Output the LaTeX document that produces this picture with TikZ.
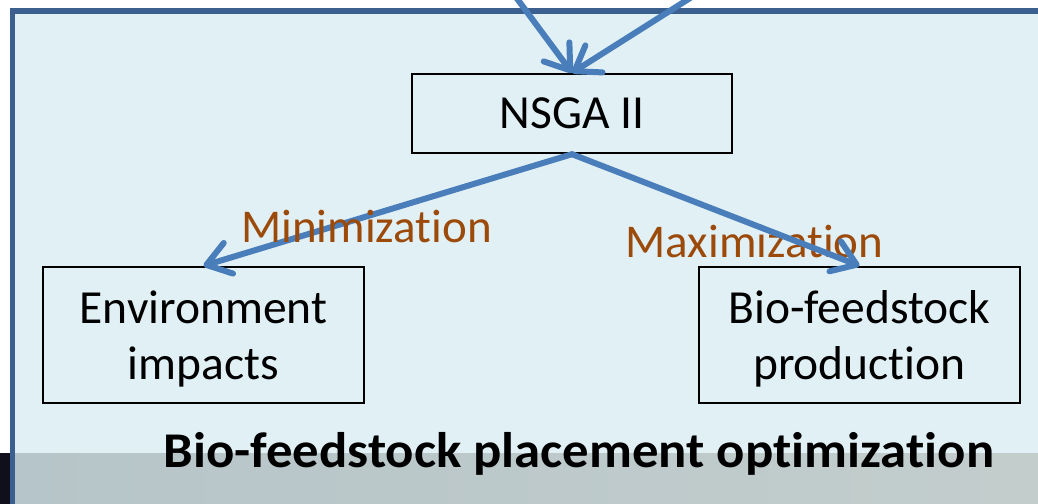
\documentclass[tikz,border=0pt]{standalone}
\usepackage{fontspec}
\usepackage{graphicx}
\setmainfont{Carlito}[Ligatures=NoCommon]
\usetikzlibrary{arrows.meta}
\definecolor{panelfill}{HTML}{E1F0F5}
\definecolor{panelborder}{HTML}{3B5F8E}
\definecolor{arrowblue}{HTML}{4A7EBB}
\definecolor{labelbrown}{HTML}{9C4A0A}
\definecolor{bandleft}{HTML}{B6C5C9}
\definecolor{bandright}{HTML}{C3CDCC}
\definecolor{darkcorner}{HTML}{10101C}
\begin{document}
\begin{tikzpicture}[x=1pt,y=-1pt,
  box/.style={draw=black, line width=2.4pt, inner sep=0pt, align=center,
    font=\fontsize{47.5}{56}\selectfont},
  conn/.style={draw=arrowblue, line width=6pt, line cap=round,
    -{Straight Barb[length=23pt,width=32pt,round]}},
  lbl/.style={text=labelbrown, anchor=base, inner sep=0pt,
    font=\fontsize{47}{56}\selectfont},
  title/.style={anchor=base, inner sep=0pt,
    font=\fontsize{50}{58}\selectfont\bfseries}]
\useasboundingbox (0,0) rectangle (1038,503);
\clip (0,0) rectangle (1038,503);
% background and panel
\fill[white] (0,0) rectangle (1038,503);
\fill[panelfill] (12,11) rectangle (1045,510);
\shade[left color=bandleft, right color=bandright] (12,453) rectangle (1045,510);
\fill[darkcorner] (0,453) rectangle (9.5,510);
\draw[panelborder, line width=5.5pt] (12.3,510) -- (12.3,11) -- (1045,11);
% nodes
\node[box, minimum width=320pt, minimum height=79pt] (nsga) at (572,113.5) {NSGA II};
\node[box, minimum width=321pt, minimum height=136pt] (env) at (203.5,335) {\rule{0pt}{40pt}Environment\\impacts};
\node[box, minimum width=321pt, minimum height=136pt] (bio) at (859.5,335) {\rule{0pt}{40pt}Bio-feedstock\\production};
\node[lbl] (maxl) at (754.5,257) {Maximization};
% connectors
\coordinate (src1) at (513.6,-6);
\coordinate (src2) at (696.5,-6);
\draw[conn] (src1) -- (nsga.north);
\draw[conn] (src2) -- (nsga.north);
\draw[conn] (nsga.south) -- (env.north);
\draw[conn] (nsga.south) -- (bio.north);
\node[lbl] (minl) at (366.5,242) {Minimization};
\node[title] (ttl) at (579,467) {\scalebox{1.055}[1]{Bio-feedstock placement optimization}};
\end{tikzpicture}
\end{document}
